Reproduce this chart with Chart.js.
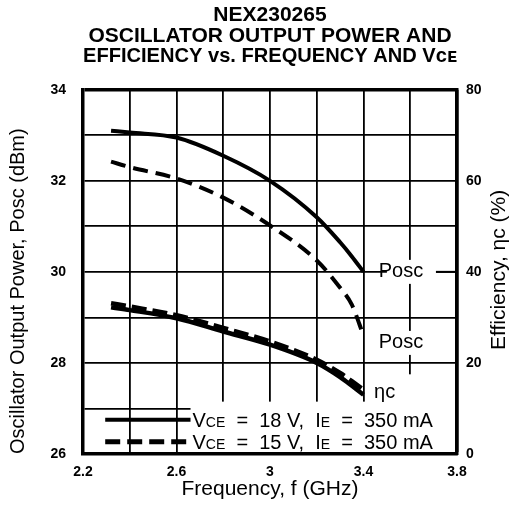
<!DOCTYPE html>
<html>
<head>
<meta charset="utf-8">
<script src="https://cdn.jsdelivr.net/npm/chart.js@4.4.1/dist/chart.umd.min.js"></script>
<style>
  html, body { margin: 0; padding: 0; background: #fff; }
  #wrap { width: 514px; height: 508px; }
</style>
</head>
<body>
<div id="wrap"><canvas id="chart"></canvas></div>
<script>
// values
const freq = [2.32, 2.4, 2.6, 2.8, 3.0, 3.2, 3.3, 3.35, 3.4];
const posc18 = [33.1, 33.06, 32.95, 32.55, 32.0, 31.2, 30.65, 30.34, 30.0];
const posc15 = [32.42, 32.3, 32.05, 31.63, 31.02, 30.25, 29.65, 29.28, 28.6];
const eff18 = [32.2, 31.6, 29.8, 26.9, 24.0, 20.0, 16.9, 15.0, 13.0];
const eff15 = [33.1, 32.4, 30.5, 27.7, 24.7, 20.7, 17.8, 16.0, 14.1];
const xTicks = [2.2, 2.6, 3, 3.4, 3.8];
const poscTicks = [26, 28, 30, 32, 34];
const effTicks = [0, 20, 40, 60, 80];

const FONT = '"Liberation Sans", Arial, sans-serif';
const pts = ys => freq.map((f, i) => ({ x: f, y: ys[i] }));
const near = (list, v) => list.some(t => Math.abs(t - v) < 1e-6);

function rich(ctx, parts, x, y) {
  parts.forEach(([txt, size]) => {
    ctx.font = size + 'px ' + FONT;
    ctx.fillText(txt, x, y);
    x += ctx.measureText(txt).width;
  });
}

const notes = {
  id: 'notes',
  beforeDatasetsDraw(chart) {
    const { ctx, scales: { x, y } } = chart;
    ctx.save();
    ctx.fillStyle = '#fff';
    // gap in grid behind the legend
    ctx.fillRect(x.getPixelForValue(2.66), y.getPixelForValue(27.15),
      x.getPixelForValue(3.47) - x.getPixelForValue(2.66), y.getPixelForValue(26) - y.getPixelForValue(27.15) - 2);
    // gap in grid at lower right
    const x34 = x.getPixelForValue(3.4) + 2, x38 = x.getPixelForValue(3.8) - 2;
    ctx.fillRect(x34, y.getPixelForValue(27.75), x38 - x34, y.getPixelForValue(26) - y.getPixelForValue(27.75) - 2);
    // boxes behind the Posc labels
    [30, 28.44].forEach(v => {
      const cy = y.getPixelForValue(v);
      ctx.fillRect(x.getPixelForValue(3.5), cy - 12, x.getPixelForValue(3.71) - x.getPixelForValue(3.5), 24);
    });
    ctx.restore();
  },
  afterDatasetsDraw(chart) {
    const { ctx, scales: { x, y } } = chart;
    ctx.save();
    ctx.fillStyle = '#000';
    ctx.strokeStyle = '#000';
    ctx.textBaseline = 'middle';
    ctx.textAlign = 'center';
    ctx.font = '20px ' + FONT;
    const cx = x.getPixelForValue(3.56);
    ctx.fillText('Posc', cx, y.getPixelForValue(30));
    ctx.fillText('Posc', cx, y.getPixelForValue(28.44));
    ctx.textAlign = 'left';
    ctx.fillText('\u03b7c', x.getPixelForValue(3.445), y.getPixelForValue(27.36));
    ctx.lineWidth = 2;
    ctx.beginPath();
    ctx.moveTo(x.getPixelForValue(3.71), y.getPixelForValue(30));
    ctx.lineTo(x.getPixelForValue(3.8), y.getPixelForValue(30));
    ctx.stroke();

    // legend
    const x0 = x.getPixelForValue(2.295), x1 = x.getPixelForValue(2.66);
    const ySolid = y.getPixelForValue(26.75), yDash = y.getPixelForValue(26.27);
    ctx.lineWidth = 4;
    ctx.beginPath(); ctx.moveTo(x0, ySolid); ctx.lineTo(x1, ySolid); ctx.stroke();
    ctx.lineWidth = 5;
    ctx.setLineDash([15, 7]);
    ctx.beginPath(); ctx.moveTo(x0, yDash); ctx.lineTo(x1, yDash); ctx.stroke();
    ctx.setLineDash([]);
    ctx.textBaseline = 'alphabetic';
    rich(ctx, [['V', 20], ['CE', 14], ['  =  18 V,  I', 20], ['E', 14], ['  =  350 mA', 20]], x1 + 2, ySolid + 7);
    rich(ctx, [['V', 20], ['CE', 14], ['  =  15 V,  I', 20], ['E', 14], ['  =  350 mA', 20]], x1 + 2, yDash + 7);

    // right axis title, reading bottom to top
    ctx.translate(499, (chart.chartArea.top + chart.chartArea.bottom) / 2 - 2);
    ctx.rotate(-Math.PI / 2);
    ctx.textAlign = 'center';
    ctx.textBaseline = 'middle';
    ctx.font = '21px ' + FONT;
    ctx.fillText('Efficiency, \u03b7c (%)', 0, 0);
    ctx.restore();
  }
};

new Chart(document.getElementById('chart'), {
  type: 'line',
  data: {
    datasets: [
      { data: pts(posc18), yAxisID: 'y', borderWidth: 4 },
      { data: pts(posc15), yAxisID: 'y', borderWidth: 4, borderDash: [15, 8] },
      { data: pts(eff18), yAxisID: 'y2', borderWidth: 4.5 },
      { data: pts(eff15), yAxisID: 'y2', borderWidth: 4.5, borderDash: [15, 6] }
    ].map(d => Object.assign(d, {
      borderColor: '#000', pointRadius: 0, fill: false, cubicInterpolationMode: 'monotone'
    }))
  },
  options: {
    responsive: true,
    maintainAspectRatio: false,
    animation: false,
    layout: { padding: 0 },
    plugins: {
      legend: { display: false },
      tooltip: { enabled: false },
      title: {
        display: true,
        fullSize: false,
        text: ['NEX230265', 'OSCILLATOR OUTPUT POWER AND', 'EFFICIENCY vs. FREQUENCY AND V\u1d04\u1d07'],
        color: '#000',
        font: { family: FONT, size: 21, weight: 'bold', lineHeight: 0.98 },
        padding: { top: 5, bottom: 23 }
      }
    },
    scales: {
      x: {
        type: 'linear', min: 2.2, max: 3.8,
        afterFit: s => { s.height = 54; },
        ticks: {
          stepSize: 0.2, padding: 10, color: '#000', maxRotation: 0, autoSkip: false,
          font: { family: FONT, size: 14, weight: 'bold' },
          callback: v => near(xTicks, v) ? String(Number(v.toFixed(1))) : ''
        },
        grid: { color: '#000', drawTicks: false, lineWidth: c => near([3.8], c.tick.value) ? 3.5 : 1.8 },
        border: { color: '#000', width: 3.5 },
        title: { display: true, text: 'Frequency, f (GHz)', color: '#000', font: { family: FONT, size: 21 }, padding: { bottom: 6 } }
      },
      y: {
        position: 'left', min: 26, max: 34,
        afterFit: s => { s.width = 83; },
        ticks: {
          stepSize: 1, padding: 17, color: '#000',
          font: { family: FONT, size: 14, weight: 'bold' },
          callback: v => near(poscTicks, v) ? String(v) : ''
        },
        grid: { color: '#000', drawTicks: false, lineWidth: c => near([34], c.tick.value) ? 3.5 : 1.8 },
        border: { color: '#000', width: 3.5 },
        title: { display: true, align: 'start', text: 'Oscillator Output Power, Posc (dBm)', color: '#000', font: { family: FONT, size: 20 }, padding: { top: 6 } }
      },
      y2: {
        position: 'right', min: 0, max: 80,
        afterFit: s => { s.width = 57; },
        ticks: {
          stepSize: 20, padding: 9, color: '#000',
          font: { family: FONT, size: 14, weight: 'bold' },
          callback: v => near(effTicks, v) ? String(v) : ''
        },
        grid: { display: false, drawTicks: false },
        border: { color: '#000', width: 3.5 }
      }
    }
  },
  plugins: [notes]
});
</script>
</body>
</html>
